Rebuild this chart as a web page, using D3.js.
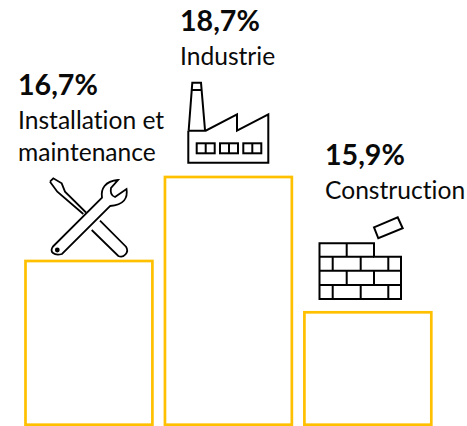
<!DOCTYPE html>
<html>
<head>
<meta charset="utf-8">
<script src="https://cdnjs.cloudflare.com/ajax/libs/d3/7.8.5/d3.min.js"></script>
<style>
  html, body { margin: 0; padding: 0; background: #fff; }
  svg { display: block; }
  text { font-family: Lato, "Open Sans", sans-serif; fill: #0a0a0a; font-variant-ligatures: none; }
  .pct { font-weight: 700; font-size: 28.6px; }
  .lab { font-size: 24.6px; }
  .icon { fill: none; stroke: #000; stroke-linejoin: miter; }
</style>
</head>
<body>
<svg id="chart" width="467" height="426"></svg>
<script>
const sectors = ["Installation et maintenance", "Industrie", "Construction"];
const shares = [16.7, 18.7, 15.9];
const shareLabels = ["16,7%", "18,7%", "15,9%"];

const width = 467, height = 426;
const svg = d3.select("#chart");

let x = d3.scaleBand().domain(sectors).range([25.5, 431.3]).paddingInner(0.09).paddingOuter(0);
// bars in the picture are not proportional to the figures, so the scale has a knot at each one
let y = d3.scaleLinear().domain([15.9, 16.7, 18.7]).range([312.3, 261, 177]);
const baseY = 424.7;

svg.selectAll("rect.bar")
  .data(sectors)
  .enter().append("rect")
  .attr("class", "bar")
  .attr("x", d => x(d))
  .attr("y", (d, i) => y(shares[i]))
  .attr("width", x.bandwidth())
  .attr("height", (d, i) => baseY - y(shares[i]))
  .attr("fill", "none")
  .attr("stroke", "#ffc000")
  .attr("stroke-width", 2.7);

/* labels */
const labelX = [18, 180, 325];
const labelY = [95, 31, 165];
const labelLines = [["Installation et", "maintenance"], ["Industrie"], ["Construction"]];

shareLabels.forEach(function(s, i) {
  svg.append("text").attr("class", "pct").attr("x", labelX[i]).attr("y", labelY[i]).text(s);
  labelLines[i].forEach(function(line, j) {
    svg.append("text").attr("class", "lab")
      .attr("x", labelX[i])
      .attr("y", labelY[i] + 33.5 + j * 32)
      .text(line);
  });
});

/* icons */
let tools = svg.append("g").attr("class", "icon").attr("stroke-width", 1.8);
tools.append("path").attr("d", "M50 181.7 L53.3 178.3 L61.7 183.3 L65 191.7 L86 212.5 M50 181.7 L57.3 191.7 L83.3 214");
tools.append("path").attr("d", "M100 220.7 L126 246.7 A6.3 6.3 0 0 1 118.3 256 L91.7 230");
tools.append("path").attr("d", "M53 246.5 L102 197.7 C100.5 189 105 181 118 180 L111 188 C110 193 112 196 115 197 L126.5 189 C128 198 124 205 110 206 L62 254 C54 256 49 252 53 246.5 Z");
tools.append("circle").attr("cx", 57.3).attr("cy", 250).attr("r", 1.5).attr("fill", "#000");

let factory = svg.append("g").attr("class", "icon").attr("stroke-width", 2);
factory.append("path").attr("d", "M188.7 130 L192.3 82.7 L201 82.7 L205 130 M191.7 90 L201.7 90");
factory.append("path").attr("d", "M188.3 130.5 L188.3 162.7 L268.3 162.7 L268.3 114.3 L237 130.7 L237 114.3 L205.7 130.7 L188.3 130.7");
[196.7, 220, 243.3].forEach(function(wx) {
  factory.append("rect").attr("x", wx).attr("y", 143.3).attr("width", 18).attr("height", 10);
  factory.append("path").attr("d", `M${wx + 9} 143.3 V153.3`);
});

let bricks = svg.append("g").attr("class", "icon").attr("stroke-width", 2);
bricks.append("path").attr("d", "M319.5 299 V243.3 H374 V256.7 H401 V299 Z");
bricks.append("path").attr("d", "M319.5 256.7 H374 M319.5 270.7 H401 M319.5 285 H401 M346.7 243.3 V256.7 M332.7 256.7 V270.7 M360.7 256.7 V270.7 M388.3 256.7 V270.7 M346.7 270.7 V285 M374 270.7 V285 M332.7 285 V299 M360.7 285 V299 M388.3 285 V299");
bricks.append("path").attr("d", "M374 227.3 L397.7 217.3 L402.7 228.3 L378.3 238.3 Z");
</script>
</body>
</html>
